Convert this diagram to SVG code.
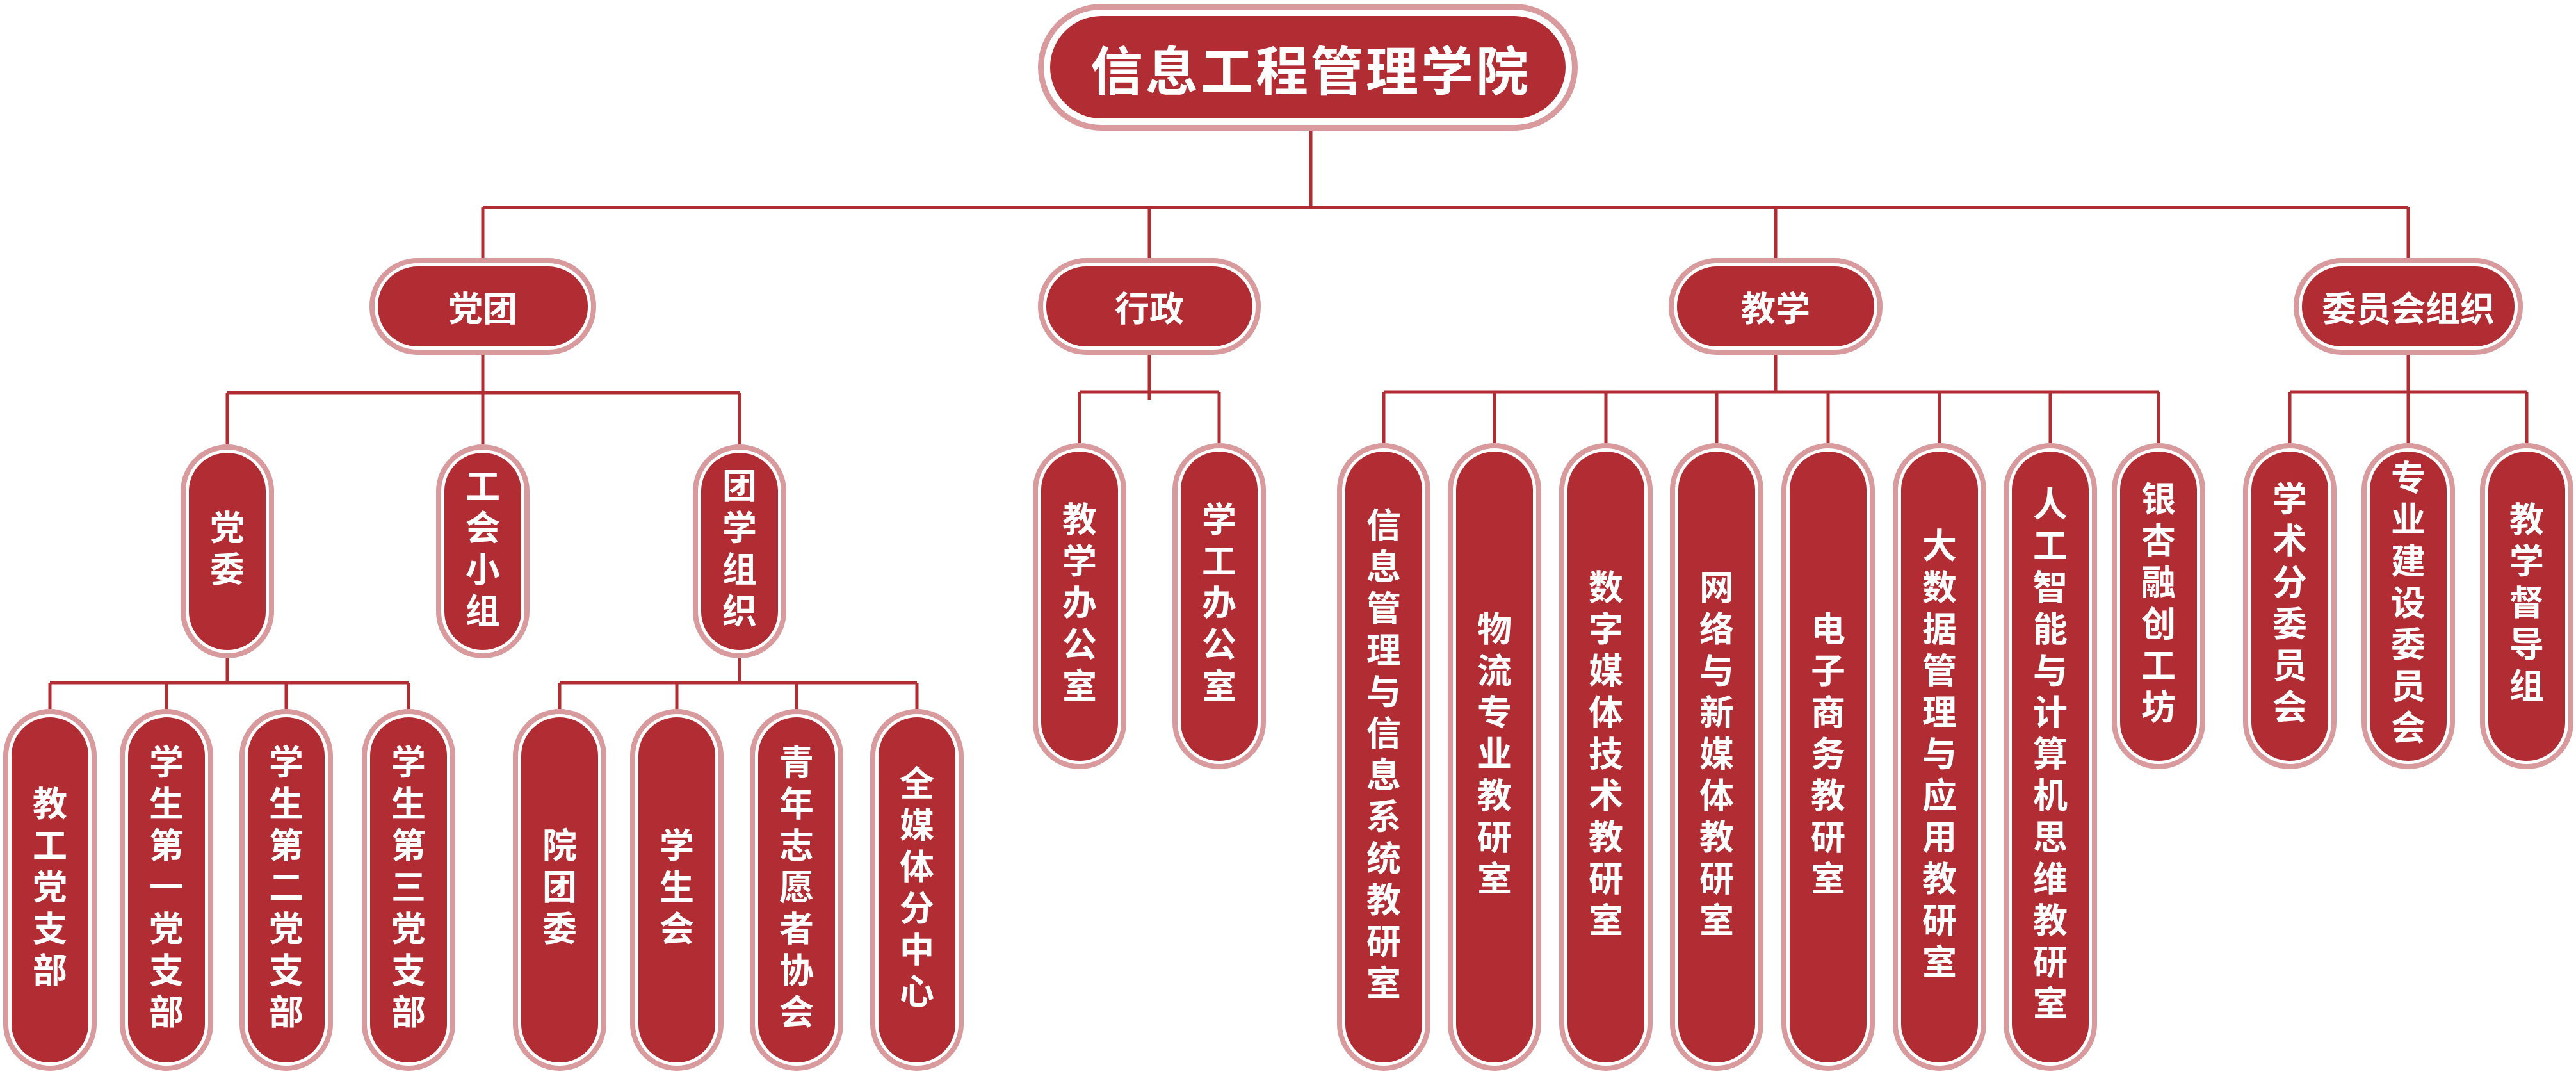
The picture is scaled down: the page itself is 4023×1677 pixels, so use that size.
<svg xmlns="http://www.w3.org/2000/svg" width="4023" height="1677" viewBox="0 0 4023 1677">
<style>
.o{fill:#D99A9D}.w{fill:#fff}.r{fill:#B22D33}
.c{fill:none;stroke:#B22D33;stroke-width:5}
text{fill:#fff;font-family:"Noto Sans CJK SC","Noto Sans",sans-serif;font-weight:bold;text-anchor:middle}
.h{font-size:54px;dominant-baseline:central}
.big{font-size:82px;dominant-baseline:central;letter-spacing:4px}
.v{font-size:54px;writing-mode:vertical-rl;letter-spacing:11px}
</style>
<rect width="4023" height="1677" fill="#fff"/>
<g id="connectors" class="c">
<path d="M2047 204V324M754 324H3761M754 324V403M1795 324V403M2773 324V403M3761 324V403"/>
<path d="M754 554V613M355 613H1155M355 613V694M754 613V694M1155 613V694"/>
<path d="M355 1028V1066M78 1066H638M78 1066V1107M260 1066V1107M447 1066V1107M638 1066V1107"/>
<path d="M1155 1028V1066M874 1066H1432M874 1066V1107M1057 1066V1107M1244 1066V1107M1432 1066V1107"/>
<path d="M1795 554V625M1686 612H1904M1686 612V692M1904 612V692"/>
<path d="M2773 554V612M2161 612H3371M2161 612V692M2334 612V692M2508 612V692M2681 612V692M2855 612V692M3029 612V692M3202 612V692M3371 612V692"/>
<path d="M3761 554V612M3576 612H3946M3576 612V692M3761 612V692M3946 612V692"/>
</g>
<g id="root"><rect class="o" x="1621" y="6" width="843" height="198" rx="99"/><rect class="w" x="1630" y="15" width="825" height="180" rx="90"/><rect class="r" x="1640" y="25" width="805" height="160" rx="80"/><text class="big" x="2047" y="105">信息工程管理学院</text></g>
<g id="dangtuan"><rect class="o" x="577" y="403" width="354" height="151" rx="75"/><rect class="w" x="585" y="411" width="338" height="135" rx="67"/><rect class="r" x="590" y="416" width="328" height="125" rx="62"/><text class="h" x="754" y="478">党团</text></g>
<g id="xingzheng"><rect class="o" x="1621" y="403" width="348" height="151" rx="75"/><rect class="w" x="1629" y="411" width="332" height="135" rx="67"/><rect class="r" x="1634" y="416" width="322" height="125" rx="62"/><text class="h" x="1795" y="478">行政</text></g>
<g id="jiaoxue"><rect class="o" x="2606" y="403" width="334" height="151" rx="75"/><rect class="w" x="2614" y="411" width="318" height="135" rx="67"/><rect class="r" x="2619" y="416" width="308" height="125" rx="62"/><text class="h" x="2773" y="478">教学</text></g>
<g id="weiyuanhui"><rect class="o" x="3582" y="403" width="358" height="151" rx="75"/><rect class="w" x="3590" y="411" width="342" height="135" rx="67"/><rect class="r" x="3595" y="416" width="332" height="125" rx="62"/><text class="h" x="3761" y="478">委员会组织</text></g>
<defs>
<g id="pA"><rect class="o" x="-73" y="0" width="146" height="334" rx="73"/><rect class="w" x="-65" y="8" width="130" height="318" rx="65"/><rect class="r" x="-60" y="13" width="120" height="308" rx="60"/></g>
<g id="pB"><rect class="o" x="-73" y="0" width="146" height="565" rx="73"/><rect class="w" x="-65" y="8" width="130" height="549" rx="65"/><rect class="r" x="-60" y="13" width="120" height="539" rx="60"/></g>
<g id="pC"><rect class="o" x="-73" y="0" width="146" height="509" rx="73"/><rect class="w" x="-65" y="8" width="130" height="493" rx="65"/><rect class="r" x="-60" y="13" width="120" height="483" rx="60"/></g>
<g id="pD"><rect class="o" x="-73" y="0" width="146" height="980" rx="73"/><rect class="w" x="-65" y="8" width="130" height="964" rx="65"/><rect class="r" x="-60" y="13" width="120" height="954" rx="60"/></g>
</defs>
<g id="dangwei"><use href="#pA" x="355" y="694"/><text class="v" x="355" y="861">党委</text></g>
<g id="gonghui"><use href="#pA" x="754" y="694"/><text class="v" x="754" y="861">工会小组</text></g>
<g id="tuanxue"><use href="#pA" x="1155" y="694"/><text class="v" x="1155" y="861">团学组织</text></g>
<g id="n1"><use href="#pB" x="78" y="1107"/><text class="v" x="78" y="1390">教工党支部</text></g>
<g id="n2"><use href="#pB" x="260" y="1107"/><text class="v" x="260" y="1390">学生第一党支部</text></g>
<g id="n3"><use href="#pB" x="447" y="1107"/><text class="v" x="447" y="1390">学生第二党支部</text></g>
<g id="n4"><use href="#pB" x="638" y="1107"/><text class="v" x="638" y="1390">学生第三党支部</text></g>
<g id="n5"><use href="#pB" x="874" y="1107"/><text class="v" x="874" y="1390">院团委</text></g>
<g id="n6"><use href="#pB" x="1057" y="1107"/><text class="v" x="1057" y="1390">学生会</text></g>
<g id="n7"><use href="#pB" x="1244" y="1107"/><text class="v" x="1244" y="1390">青年志愿者协会</text></g>
<g id="n8"><use href="#pB" x="1432" y="1107"/><text class="v" x="1432" y="1390">全媒体分中心</text></g>
<g id="x1"><use href="#pC" x="1686" y="692"/><text class="v" x="1686" y="946">教学办公室</text></g>
<g id="x2"><use href="#pC" x="1904" y="692"/><text class="v" x="1904" y="946">学工办公室</text></g>
<g id="j1"><use href="#pD" x="2161" y="692"/><text class="v" x="2161" y="1182">信息管理与信息系统教研室</text></g>
<g id="j2"><use href="#pD" x="2334" y="692"/><text class="v" x="2334" y="1182">物流专业教研室</text></g>
<g id="j3"><use href="#pD" x="2508" y="692"/><text class="v" x="2508" y="1182">数字媒体技术教研室</text></g>
<g id="j4"><use href="#pD" x="2681" y="692"/><text class="v" x="2681" y="1182">网络与新媒体教研室</text></g>
<g id="j5"><use href="#pD" x="2855" y="692"/><text class="v" x="2855" y="1182">电子商务教研室</text></g>
<g id="j6"><use href="#pD" x="3029" y="692"/><text class="v" x="3029" y="1182">大数据管理与应用教研室</text></g>
<g id="j7"><use href="#pD" x="3202" y="692"/><text class="v" x="3202" y="1182">人工智能与计算机思维教研室</text></g>
<g id="j8"><use href="#pC" x="3371" y="692"/><text class="v" x="3371" y="946">银杏融创工坊</text></g>
<g id="w1"><use href="#pC" x="3576" y="692"/><text class="v" x="3576" y="946">学术分委员会</text></g>
<g id="w2"><use href="#pC" x="3761" y="692"/><text class="v" x="3761" y="946">专业建设委员会</text></g>
<g id="w3"><use href="#pC" x="3946" y="692"/><text class="v" x="3946" y="946">教学督导组</text></g>
</svg>
